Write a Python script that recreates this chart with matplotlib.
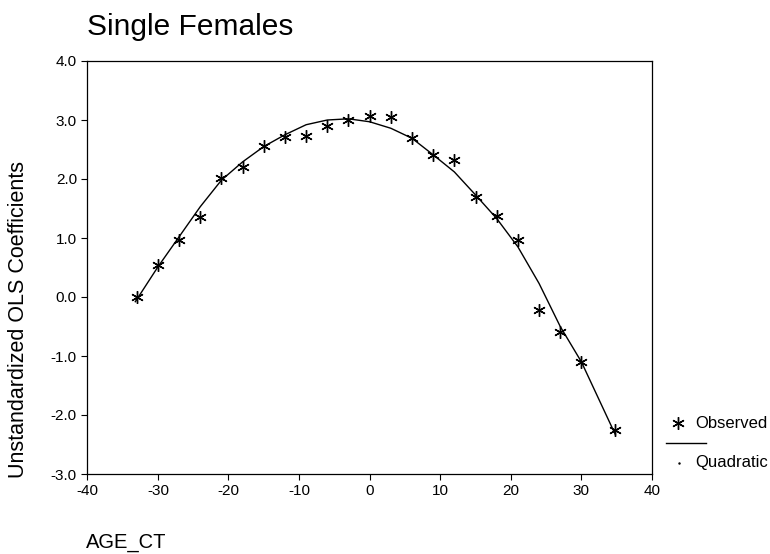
import matplotlib
matplotlib.use('Agg')
import matplotlib.pyplot as plt
from matplotlib.lines import Line2D

plt.rcParams['font.family'] = ['Liberation Sans', 'DejaVu Sans']
plt.rcParams['axes.unicode_minus'] = False

# observed coefficients by centred age
obs_x = [-33, -30, -27, -24, -21, -18, -15, -12, -9, -6, -3, 0, 3, 6, 9, 12, 15, 18, 21, 24, 27, 30, 34.7]
obs_y = [0.00, 0.54, 0.96, 1.36, 2.02, 2.20, 2.56, 2.71, 2.73, 2.89, 3.00, 3.07, 3.05, 2.69, 2.41, 2.33,
         1.69, 1.38, 0.97, -0.22, -0.60, -1.11, -2.26]

# quadratic fit line
fit_x = [-33.2, -30, -27, -24, -21, -18, -15, -12, -9, -6, -3, 0, 3, 6, 9, 12, 15, 18, 21, 24, 27, 30, 34.8]
fit_y = [-0.08, 0.51, 1.02, 1.53, 1.98, 2.29, 2.55, 2.75, 2.92, 3.00, 3.02, 2.97, 2.86, 2.69, 2.41, 2.12,
         1.73, 1.33, 0.85, 0.23, -0.50, -1.10, -2.33]

x_ticks = [-40, -30, -20, -10, 0, 10, 20, 30, 40]
y_ticks = [-3.0, -2.0, -1.0, 0.0, 1.0, 2.0, 3.0, 4.0]

W, H = 770, 554
fig = plt.figure(figsize=(W / 100, H / 100), dpi=100)
ax = fig.add_axes([87.3 / W, 1 - 474 / H, (652 - 87.3) / W, (474 - 61) / H])

star = (6, 2, 0)
ax.plot(fit_x, fit_y, color='black', lw=1.0)
ax.plot(obs_x, obs_y, ls='none', marker=star, ms=9, mew=1.0, color='black')

ax.set_xlim(-40, 40)
ax.set_ylim(-3, 4)
ax.set_xticks(x_ticks)
ax.set_xticklabels([str(t) for t in x_ticks])
ax.set_yticks(y_ticks)
ax.set_yticklabels(['{:.1f}'.format(t) for t in y_ticks])
ax.tick_params(direction='out', length=4.5, width=0.8, pad=3, labelsize=11, colors='black')
for s in ax.spines.values():
    s.set_linewidth(0.9)
    s.set_color('black')

fig.text(87.3 / W, 1 - 35 / H, 'Single Females', fontsize=21.5, ha='left', va='baseline')
fig.text(86 / W, 1 - 548 / H, 'AGE_CT', fontsize=14.5, ha='left', va='baseline')
fig.text(19 / W, 1 - 320 / H, 'Unstandardized OLS Coefficients', fontsize=15.5,
         rotation=90, ha='center', va='center')

# legend, laid out like the SPSS one
fig.add_artist(Line2D([678 / W], [1 - 423 / H], marker=star, ms=9, mew=1.0, color='black',
                      ls='none', transform=fig.transFigure))
fig.text(695 / W, 1 - 423 / H, 'Observed', fontsize=12, ha='left', va='center')
fig.add_artist(Line2D([666 / W, 706 / W], [1 - 443 / H, 1 - 443 / H], color='black', lw=1.0,
                      transform=fig.transFigure))
fig.add_artist(Line2D([679 / W], [1 - 463 / H], marker='.', ms=1.5, color='black',
                      ls='none', transform=fig.transFigure))
fig.text(695 / W, 1 - 463 / H, 'Quadratic', fontsize=12, ha='left', va='center')

fig.savefig('out.png', dpi=100)
